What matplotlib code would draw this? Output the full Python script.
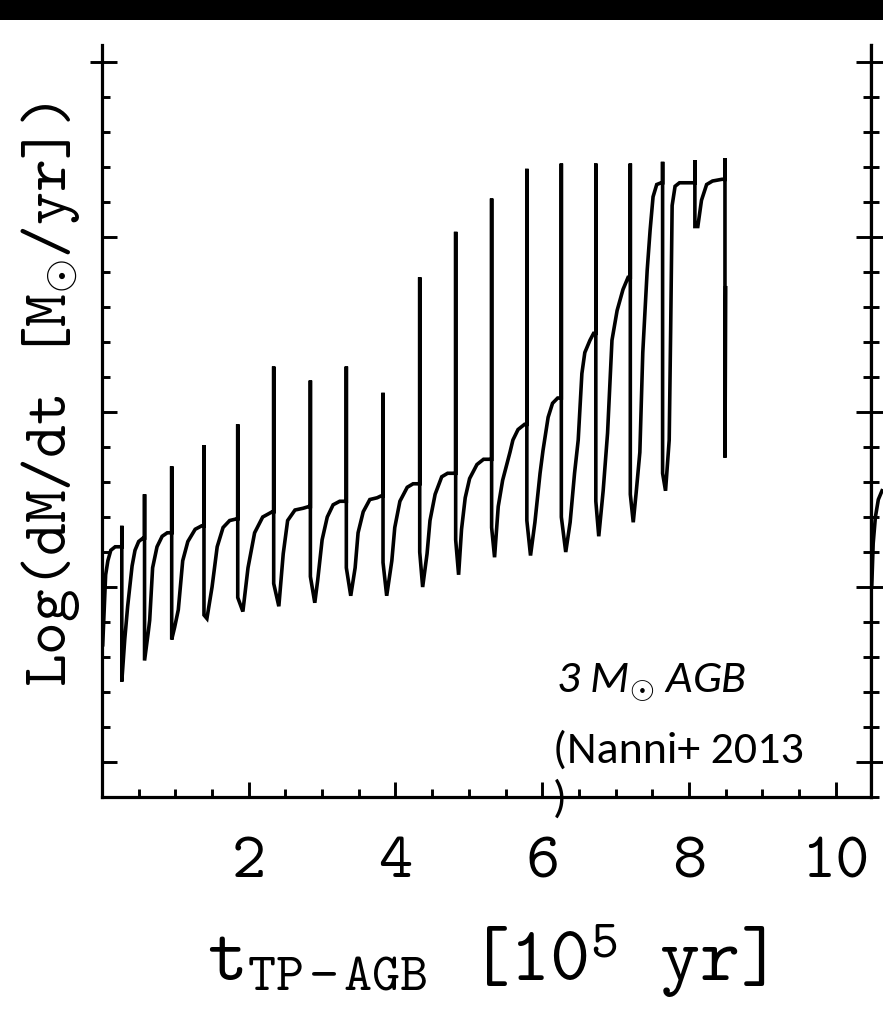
import matplotlib
matplotlib.use('Agg')
import matplotlib.pyplot as plt
from matplotlib.patches import Rectangle
from matplotlib.ticker import MultipleLocator, NullLocator

# mass-loss history through the thermally pulsing AGB, one pulse cycle per line:
# (pulse time x3 -> pre-pulse level, peak, drop), then the quiescent recovery
t_tp = [
    0.01, 0.03, 0.05, 0.08, 0.12, 0.18, 0.25,
    0.27, 0.27, 0.27, 0.31, 0.35, 0.41, 0.45, 0.50, 0.56,
    0.58, 0.58, 0.58, 0.63, 0.65, 0.69, 0.75, 0.82, 0.89, 0.94,
    0.95, 0.95, 0.95, 0.99, 1.04, 1.10, 1.17, 1.27, 1.36,
    1.39, 1.39, 1.39, 1.43, 1.50, 1.57, 1.65, 1.74, 1.84,
    1.85, 1.85, 1.85, 1.92, 1.99, 2.08, 2.19, 2.32,
    2.34, 2.34, 2.34, 2.41, 2.47, 2.53, 2.63, 2.74, 2.82,
    2.84, 2.84, 2.84, 2.90, 2.94, 3.00, 3.07, 3.15, 3.24, 3.31,
    3.33, 3.33, 3.33, 3.39, 3.45, 3.49, 3.56, 3.65, 3.75, 3.80,
    3.83, 3.83, 3.83, 3.88, 3.95, 3.99, 4.06, 4.16, 4.24, 4.31,
    4.33, 4.33, 4.33, 4.37, 4.43, 4.47, 4.54, 4.63, 4.71, 4.80,
    4.82, 4.82, 4.82, 4.86, 4.90, 4.95, 5.01, 5.11, 5.20, 5.29,
    5.31, 5.31, 5.31, 5.35, 5.40, 5.46, 5.56, 5.60, 5.67, 5.76,
    5.79, 5.79, 5.79, 5.84, 5.90, 5.97, 6.01, 6.08, 6.14, 6.21,
    6.26, 6.26, 6.26, 6.32, 6.38, 6.44, 6.49, 6.54, 6.58, 6.65, 6.70,
    6.73, 6.73, 6.73, 6.77, 6.83, 6.89, 6.95, 7.02, 7.10, 7.17,
    7.20, 7.20, 7.20, 7.24, 7.28, 7.33, 7.37, 7.43, 7.47, 7.51, 7.56, 7.62,
    7.64, 7.64, 7.64, 7.68, 7.73, 7.75, 7.77, 7.81, 7.87, 8.04,
    8.08, 8.08, 8.08, 8.12, 8.17, 8.24, 8.32, 8.45,
    8.49, 8.49, 8.49, 8.50,
]
log_mdot = [
    -7.33, -7.13, -6.93, -6.85, -6.79, -6.77, -6.77,
    -6.77, -6.65, -7.54, -7.30, -7.11, -6.88, -6.79, -6.74, -6.72,
    -6.72, -6.47, -7.42, -7.26, -7.19, -6.89, -6.77, -6.71, -6.69, -6.69,
    -6.69, -6.31, -7.30, -7.23, -7.13, -6.85, -6.74, -6.67, -6.65,
    -6.65, -6.19, -7.16, -7.18, -7.00, -6.77, -6.66, -6.62, -6.61,
    -6.61, -6.07, -7.06, -7.14, -6.89, -6.69, -6.60, -6.57,
    -6.57, -5.74, -6.98, -7.11, -6.81, -6.62, -6.56, -6.55, -6.54,
    -6.54, -5.82, -6.94, -7.09, -6.96, -6.73, -6.60, -6.53, -6.51, -6.51,
    -6.51, -5.74, -6.89, -7.05, -6.89, -6.69, -6.57, -6.50, -6.49, -6.48,
    -6.48, -5.89, -6.86, -7.05, -6.85, -6.66, -6.51, -6.43, -6.41, -6.41,
    -6.41, -5.23, -6.80, -7.00, -6.81, -6.62, -6.47, -6.37, -6.35, -6.35,
    -6.35, -4.97, -6.73, -6.93, -6.67, -6.49, -6.38, -6.30, -6.27, -6.27,
    -6.27, -4.78, -6.66, -6.83, -6.54, -6.39, -6.23, -6.16, -6.10, -6.07,
    -6.07, -4.61, -6.62, -6.82, -6.63, -6.35, -6.22, -6.03, -5.95, -5.92,
    -5.92, -4.58, -6.60, -6.80, -6.63, -6.35, -6.16, -5.78, -5.66, -5.59, -5.55,
    -5.55, -4.58, -6.51, -6.71, -6.45, -6.12, -5.59, -5.42, -5.30, -5.23,
    -5.23, -4.58, -6.47, -6.63, -6.46, -6.23, -5.66, -5.19, -4.96, -4.77, -4.70, -4.69,
    -4.69, -4.57, -6.35, -6.45, -6.16, -5.53, -4.82, -4.71, -4.69, -4.69,
    -4.69, -4.56, -4.94, -4.94, -4.79, -4.70, -4.68, -4.67,
    -4.67, -4.55, -6.26, -5.29,
]

# first steps of the track in the next panel
t_next = [0.01, 0.03, 0.06, 0.10, 0.15]
log_mdot_next = [-7.00, -6.75, -6.60, -6.50, -6.45]

x_ticks = [2, 4, 6, 8, 10]
x_ticklabels = ['2', '4', '6', '8', '10']

plt.rcParams['font.family'] = 'Latin Modern Mono'
plt.rcParams['mathtext.fontset'] = 'custom'
plt.rcParams['mathtext.rm'] = 'Latin Modern Mono'
plt.rcParams['mathtext.it'] = 'Latin Modern Mono:italic'

fig = plt.figure(figsize=(8.83, 10.17), dpi=100)
fig.add_artist(Rectangle((0, 1 - 20 / 1017), 1, 20 / 1017,
                         transform=fig.transFigure, color='black', lw=0))

box = [0.1155, 0.2163, 0.8709, 0.7394]
ax = fig.add_axes(box)
nxt = fig.add_axes([box[0] + box[2], box[1], box[2], box[3]])

xlim = (0, 10.48)
ylim = (-8.2, -3.903)

ax.plot(t_tp, log_mdot, color='black', lw=2.6, solid_joinstyle='miter')
nxt.plot(t_next, log_mdot_next, color='black', lw=2.6)

for a in (ax, nxt):
    a.set_xlim(*xlim)
    a.set_ylim(*ylim)
    a.xaxis.set_major_locator(MultipleLocator(2))
    a.xaxis.set_minor_locator(MultipleLocator(0.5))
    a.yaxis.set_major_locator(MultipleLocator(1))
    a.yaxis.set_minor_locator(MultipleLocator(0.2))
    a.spines['top'].set_visible(False)
    for s in a.spines.values():
        s.set_linewidth(2.3)
    a.tick_params(which='both', direction='in', width=2.1, top=False,
                  labelleft=False)
    a.tick_params(which='major', length=10.8)
    a.tick_params(which='minor', length=5.8)

ax.tick_params(which='both', right=True)
ax.set_xticks(x_ticks)
ax.set_xticklabels(x_ticklabels)
ax.tick_params(axis='x', which='major', labelsize=47, pad=29)

nxt.spines['right'].set_visible(False)
nxt.spines['bottom'].set_visible(False)
nxt.tick_params(which='both', bottom=False, labelbottom=False)

# outward stub at the top left major tick
sec = ax.secondary_yaxis('left')
sec.set_yticks([-4])
sec.set_yticklabels([])
sec.yaxis.set_minor_locator(NullLocator())
sec.tick_params(direction='out', length=8.6, width=2.1)
sec.spines['left'].set_visible(False)

ax.set_xlabel(r'$\rm t_{TP-AGB}$ [10$^{5}$ yr]', fontsize=55)
ax.xaxis.set_label_coords(0.5, -0.166)
ax.set_ylabel(r'Log(dM/dt [M$_{\odot}$/yr])', fontsize=45)
ax.yaxis.set_label_coords(-0.026, 0.535)

ax.text(6.19, -7.6, r'3 M$_{\odot}$ AGB', family='Carlito', style='italic',
        fontsize=33, va='baseline')
ax.text(6.14, -8.285, '(Nanni+ 2013\n)', family='Carlito', fontsize=33,
        va='baseline', linespacing=1.3)

fig.savefig('out.png', dpi=100)
